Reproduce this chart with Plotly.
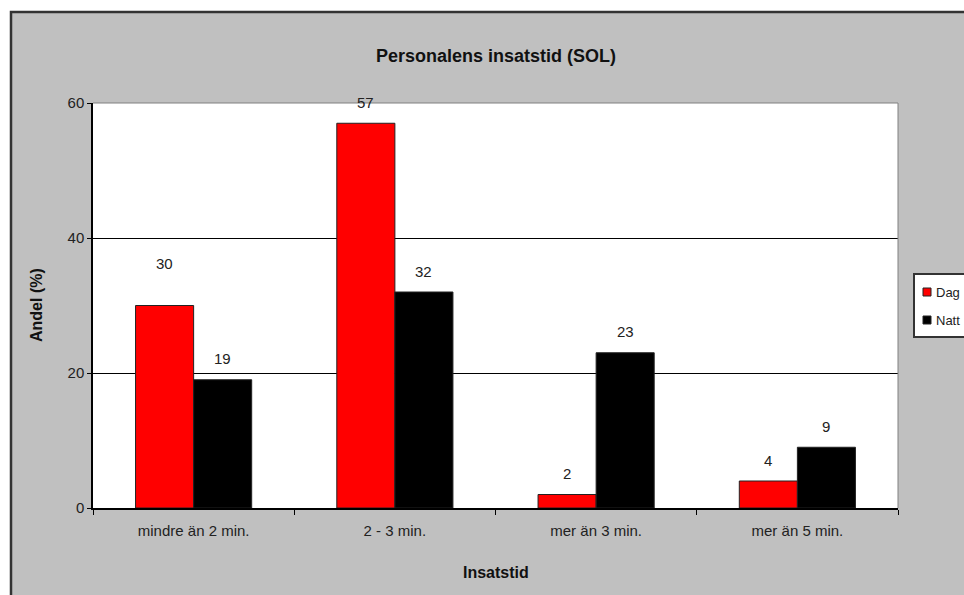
import plotly.graph_objects as go

categories = ["mindre än 2 min.", "2 - 3 min.", "mer än 3 min.", "mer än 5 min."]
series_names = ["Dag", "Natt"]
dag = [30, 57, 2, 4]
natt = [19, 32, 23, 9]
series_colors = ["#ff0000", "#000000"]
dag_label_shift = [42, 21, 21, 21]
natt_label_shift = [21, 21, 21, 21]
y_ticks = [0, 20, 40, 60]

W, H = 964, 595
L, R, T, B = 93, 66, 103, 87
pw, ph = W - L - R, H - T - B


def px(x):
    return (x - L) / pw


def py(y):
    return (H - B - y) / ph


FONT = "Liberation Sans, Arial, sans-serif"

fig = go.Figure()
for name, vals, col in zip(series_names, [dag, natt], series_colors):
    fig.add_trace(go.Bar(name=name, x=categories, y=vals, showlegend=False,
                         marker=dict(color=col, line=dict(color="#222222", width=1))))

annotations = []
for i, c in enumerate(categories):
    annotations.append(dict(x=c, y=dag[i], xref="x", yref="y", text=str(dag[i]),
                            showarrow=False, xshift=-29, yshift=dag_label_shift[i],
                            font=dict(size=15, color="#222222", family=FONT)))
    annotations.append(dict(x=c, y=natt[i], xref="x", yref="y", text=str(natt[i]),
                            showarrow=False, xshift=29, yshift=natt_label_shift[i],
                            font=dict(size=15, color="#222222", family=FONT)))

annotations.append(dict(x=0.5, y=py(44), xref="paper", yref="paper",
                        text="<b>Personalens insatstid (SOL)</b>", showarrow=False,
                        font=dict(size=18, color="#111111", family=FONT)))
annotations.append(dict(x=0.5, y=py(583), xref="paper", yref="paper",
                        text="<b>Insatstid</b>", showarrow=False,
                        font=dict(size=16, color="#111111", family=FONT)))
annotations.append(dict(x=px(26), y=0.5, xref="paper", yref="paper",
                        text="<b>Andel (%)</b>", showarrow=False, textangle=-90,
                        font=dict(size=16, color="#111111", family=FONT)))

shapes = [
    # white strip above frame
    dict(type="rect", xref="paper", yref="paper", x0=px(-5), x1=px(1000),
         y0=py(11), y1=py(-5), fillcolor="white", line=dict(width=0), layer="above"),
    # white strip left of frame
    dict(type="rect", xref="paper", yref="paper", x0=px(-5), x1=px(10),
         y0=py(600), y1=py(-5), fillcolor="white", line=dict(width=0), layer="above"),
    # frame border
    dict(type="path", xref="paper", yref="paper",
         path=f"M{px(11)},{py(600)} L{px(11)},{py(12)} L{px(1000)},{py(12)}",
         line=dict(color="#333333", width=2.5), layer="above"),
    # plot area top/right border
    dict(type="path", xref="paper", yref="paper",
         path="M0,1 L1,1 L1,0", line=dict(color="#808080", width=1), layer="above"),
    # legend box
    dict(type="rect", xref="paper", yref="paper", x0=px(914), x1=px(1000),
         y0=py(337), y1=py(274), fillcolor="white",
         line=dict(color="#333333", width=2), layer="above"),
]

# legend entries
legend_rows = [292, 320]
for name, col, row in zip(series_names, series_colors, legend_rows):
    shapes.append(dict(type="rect", xref="paper", yref="paper",
                       x0=px(923), x1=px(931), y0=py(row + 4), y1=py(row - 4),
                       fillcolor=col, line=dict(color="#222222", width=1), layer="above"))
    annotations.append(dict(x=px(934), y=py(row), xref="paper", yref="paper",
                            xanchor="left", yanchor="middle", text=name, showarrow=False,
                            font=dict(size=13, color="#222222", family=FONT)))

fig.update_layout(
    width=W, height=H,
    margin=dict(l=L, r=R, t=T, b=B, autoexpand=False),
    paper_bgcolor="#c0c0c0",
    plot_bgcolor="white",
    barmode="group",
    bargap=0.423,
    bargroupgap=0,
    font=dict(family=FONT, color="#222222"),
    showlegend=False,
    annotations=annotations,
    shapes=shapes,
    xaxis=dict(showline=True, linecolor="#000000", linewidth=1.5,
               ticks="outside", tickson="boundaries", ticklen=5, tickcolor="#000000",
               tickfont=dict(size=15, color="#222222", family=FONT),
               ticklabelstandoff=8, showgrid=False, fixedrange=True),
    yaxis=dict(range=[0, 60], tickvals=y_ticks, showline=True, linecolor="#000000",
               linewidth=1.5, ticks="outside", ticklen=4, tickcolor="#000000",
               tickfont=dict(size=15, color="#222222", family=FONT),
               showgrid=True, gridcolor="#000000", gridwidth=1, zeroline=False,
               fixedrange=True),
)

fig.write_html("out.html")
